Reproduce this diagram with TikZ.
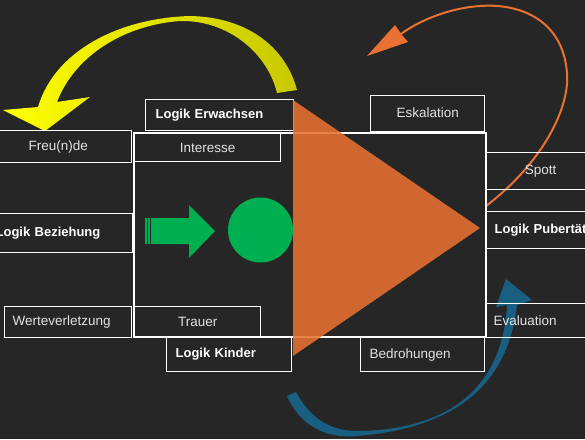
\documentclass[tikz,border=0pt]{standalone}
\usepackage{fontspec}
\setmainfont{Liberation Sans}
\usetikzlibrary{positioning}

\definecolor{slide}{HTML}{262626}
\definecolor{labelgray}{HTML}{E2E2E2}
\definecolor{wedgeorange}{HTML}{E97132}
\definecolor{pushgreen}{HTML}{00B050}
\definecolor{loopyellow}{HTML}{FFFF00}
\definecolor{loopolive}{HTML}{C8C800}
\definecolor{loopblue}{HTML}{185F82}

\newcommand{\boxfont}{\fontsize{13.5}{16}\selectfont}
\newcommand{\logikfont}{\fontsize{13}{16}\selectfont\bfseries}

\begin{document}
\begin{tikzpicture}[x=1pt,y=-1pt]
\tikzstyle{frame}=[draw=white, line width=1.3pt, inner sep=0pt, anchor=north west, text=labelgray, font=\boxfont]
\tikzstyle{flush}=[frame, align=left]
\tikzstyle{logik}=[flush, text=white, font=\logikfont]

\useasboundingbox (0,0) rectangle (585,439);
\fill[slide] (0,0) rectangle (585,439);
\clip (0,0) rectangle (585,439);

% yellow loop
\shade[left color=loopyellow, right color=loopolive]
  (297,90) .. controls (285,45) and (245,17) .. (190,16)
  .. controls (120,18) and (55,50) .. (38,107)
  -- (3,110) -- (45,131) -- (90,97) -- (57,102)
  .. controls (75,55) and (125,25) .. (180,21)
  .. controls (230,20) and (268,55) .. (277,93) -- cycle;

% orange loop
\draw[wedgeorange, line width=2pt] (486,206) .. controls (540,165) and (570,110) .. (567,73)
  .. controls (563,20) and (520,3) .. (480,6) .. controls (450,8) and (420,20) .. (401,34);
\fill[wedgeorange] (395,25) -- (367,56) -- (408,42) -- (402,35) -- cycle;

% blue loop
\fill[loopblue] (517,305) .. controls (508,385) and (455,428) .. (357,436)
  .. controls (325,439) and (300,425) .. (287,396) -- (296,392)
  .. controls (310,418) and (330,431) .. (357,431)
  .. controls (455,430) and (503,382) .. (507,305)
  -- (496,307) -- (506,279) -- (532,300) -- cycle;

% main frame
\node[frame, line width=2pt, minimum width=352, minimum height=204] (stage) at (133,132) {};

% left column
\node[frame, minimum width=147, minimum height=32] (freunde) at (-16,130) {Freu(n)de};
\node[logik, inner xsep=8pt, text width=129pt, minimum height=39] (beziehung) at (-13,213) {Logik Beziehung};
\node[flush, inner xsep=8pt, text width=111pt, minimum height=31] (werte) at (4,306) {Werteverletzung};

% inside the frame
\node[logik, inner xsep=10pt, text width=128pt, minimum height=31] (erwachsen) at (145,99) {Logik Erwachsen};
\node[frame, minimum width=146, minimum height=28] (interesse) at (134,133) {Interesse};
\node[frame, minimum width=126, minimum height=30] (trauer) at (134,306) {Trauer};
\node[logik, inner xsep=9pt, text width=107pt, minimum height=34] (kinder) at (166,337) {Logik Kinder};
\node[frame, minimum width=114, minimum height=36] (eskalation) at (370,95) {\raisebox{3pt}{Eskalation}};
\node[flush, inner xsep=9pt, text width=106pt, minimum height=34] (bedrohungen) at (360,337) {Bedrohungen};

% right column
\node[frame, minimum width=110, minimum height=37] (spott) at (485,152) {Spott};
\node[logik, inner xsep=9pt, text width=92pt, minimum height=37] (pubertaet) at (485,211) {\mbox{Logik Pubertät}};
\node[flush, inner xsep=8pt, text width=94pt, minimum height=34] (evaluation) at (485,303) {Evaluation};

% green push
\foreach \sx in {145,148.3,151.3}
  \fill[pushgreen] (\sx,218) rectangle ++(1.5,26);
\fill[pushgreen] (153,218) -- (189,218) -- (189,205) -- (215,231) -- (189,258) -- (189,244) -- (153,244) -- cycle;
\node[circle, fill=pushgreen, minimum size=65pt, inner sep=0pt] (ball) at (260.5,230) {};

% wedge
\fill[wedgeorange, opacity=0.88] (293,100) -- (480,228) -- (293,356) -- cycle;
\end{tikzpicture}
\end{document}
